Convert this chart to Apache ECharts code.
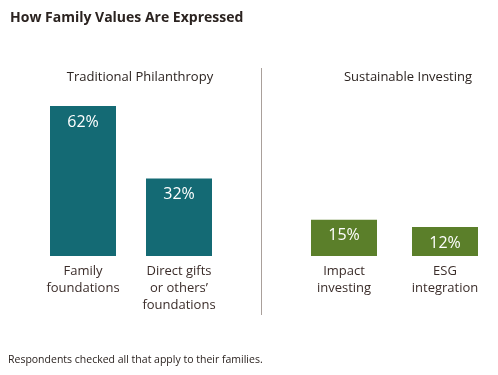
<!DOCTYPE html>
<html><head><meta charset="utf-8">
<script src="https://cdn.jsdelivr.net/npm/echarts@6/dist/echarts.min.js"></script>
<style>html,body{margin:0;padding:0;background:#fff}#c{width:498px;height:375px}</style>
</head><body><div id="c"></div>
<script>
var titleText = 'How Family Values Are Expressed';
var groupNames = ['Traditional Philanthropy', 'Sustainable Investing'];
var tradCategories = ['Family\nfoundations', 'Direct gifts\nor others\u2019\nfoundations'];
var tradValues = [62, 32];
var sustCategories = ['Impact\ninvesting', 'ESG\nintegration'];
var sustValues = [15, 12];
var footnote = 'Respondents checked all that apply to their families.';

var FONT = '"Open Sans", "Noto Sans", sans-serif';
var TXT = '#3b2d2a';
var TEAL = '#146a74';
var GREEN = '#5b7f2a';

var chart = echarts.init(document.getElementById('c'));
function xAx(idx, cats) {
  return {gridIndex: idx, type: 'category', data: cats,
    axisLine: {show: false}, axisTick: {show: false},
    axisLabel: {color: TXT, fontFamily: FONT, fontSize: 13, lineHeight: 17, margin: 7, interval: 0}};
}
function yAx(idx) {
  return {gridIndex: idx, type: 'value', min: 0, max: 70, show: false, splitLine: {show: false}};
}
function ser(idx, vals, color) {
  return {type: 'bar', xAxisIndex: idx, yAxisIndex: idx, data: vals, barWidth: 66,
    itemStyle: {color: color},
    label: {show: true, position: 'insideTop', distance: 8, formatter: '{c}%', color: '#fff', fontFamily: FONT, fontSize: 16}};
}
chart.setOption({
  animation: false,
  textStyle: {fontFamily: FONT},
  title: [
    {text: titleText, left: 5, top: 6, textStyle: {fontFamily: FONT, fontSize: 14, fontWeight: 'bold', color: '#2b2320'}},
    {text: groupNames[0], left: 135, textAlign: 'center', top: 66, textStyle: {fontFamily: FONT, fontSize: 13, fontWeight: 500, color: '#2b2320'}},
    {text: groupNames[1], left: 403, textAlign: 'center', top: 66, textStyle: {fontFamily: FONT, fontSize: 13, fontWeight: 500, color: '#2b2320'}},
    {text: footnote, left: 3, top: 350, textStyle: {fontFamily: FONT, fontSize: 10.5, fontWeight: 'normal', color: '#2b2320'}}
  ],
  grid: [
    {left: 35, width: 192, top: 86.6, bottom: 119},
    {left: 293.5, width: 202, top: 86.6, bottom: 119}
  ],
  xAxis: [xAx(0, tradCategories), xAx(1, sustCategories)],
  yAxis: [yAx(0), yAx(1)],
  series: [ser(0, tradValues, TEAL), ser(1, sustValues, GREEN)],
  graphic: [{type: 'line', shape: {x1: 261.5, y1: 68, x2: 261.5, y2: 315}, style: {stroke: '#a9a09b', lineWidth: 1}}]
});
</script></body></html>
